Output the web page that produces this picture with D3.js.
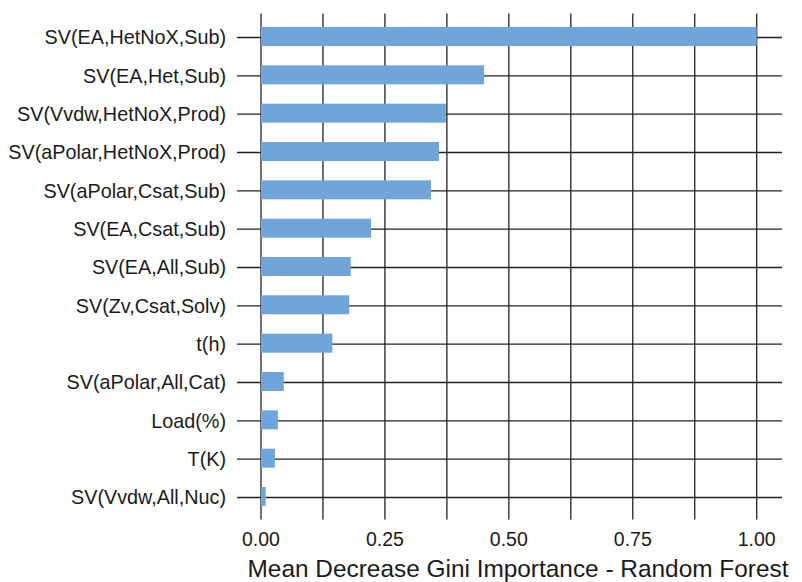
<!DOCTYPE html>
<html>
<head>
<meta charset="utf-8">
<script src="https://cdn.jsdelivr.net/npm/d3@7"></script>
<style>
  body { margin: 0; background: #fff; }
  text { font-family: "Liberation Sans", Arial, sans-serif; fill: #1a1a1a; }
</style>
</head>
<body>
<div id="canvas"></div>
<script>
// data, top bar first
let features = [
    'SV(EA,HetNoX,Sub)', 'SV(EA,Het,Sub)', 'SV(Vvdw,HetNoX,Prod)', 'SV(aPolar,HetNoX,Prod)',
    'SV(aPolar,Csat,Sub)', 'SV(EA,Csat,Sub)', 'SV(EA,All,Sub)', 'SV(Zv,Csat,Solv)',
    't(h)', 'SV(aPolar,All,Cat)', 'Load(%)', 'T(K)', 'SV(Vvdw,All,Nuc)'
]
let importance = [1.00, 0.45, 0.373, 0.359, 0.343, 0.222, 0.181, 0.178, 0.144, 0.046, 0.034, 0.028, 0.0095]
let xTicks = [0, 0.25, 0.5, 0.75, 1]
let xGrid = [0, 0.125, 0.25, 0.375, 0.5, 0.625, 0.75, 0.875, 1]
let xTitle = 'Mean Decrease Gini Importance - Random Forest'

let width = 802
let height = 582
let panel = { left: 237, right: 782, top: 13.5, bottom: 519.5 }
let barColor = '#6fa5d8'
let lineColor = '#222'

let svg = d3.select('#canvas').append('svg')
    .attr('width', width)
    .attr('height', height)

let x = d3.scaleLinear().domain([0, 1]).range([261, 756.7])
let y = d3.scalePoint().domain(features).range([37.5, 497.5])
let barH = 19

// grid
svg.append('g')
    .selectAll('line')
    .data(xGrid)
    .enter()
    .append('line')
    .attr('x1', (d) => x(d))
    .attr('x2', (d) => x(d))
    .attr('y1', panel.top)
    .attr('y2', panel.bottom)
    .attr('stroke', lineColor)
    .attr('stroke-width', 1.3)

svg.append('g')
    .selectAll('line')
    .data(features)
    .enter()
    .append('line')
    .attr('x1', panel.left)
    .attr('x2', panel.right)
    .attr('y1', (d) => y(d))
    .attr('y2', (d) => y(d))
    .attr('stroke', lineColor)
    .attr('stroke-width', 1.3)

// bars
svg.append('g')
    .selectAll('rect')
    .data(features)
    .enter()
    .append('rect')
    .attr('x', x(0))
    .attr('y', (d) => y(d) - barH / 2 - 1)
    .attr('width', (d, i) => x(importance[i]) - x(0))
    .attr('height', barH)
    .attr('fill', barColor)

// y labels
svg.append('g')
    .selectAll('text')
    .data(features)
    .enter()
    .append('text')
    .attr('x', 226)
    .attr('y', (d) => y(d))
    .attr('dy', '0.35em')
    .attr('text-anchor', 'end')
    .attr('font-size', '19.8px')
    .text((d) => d)

// x labels
svg.append('g')
    .selectAll('text')
    .data(xTicks)
    .enter()
    .append('text')
    .attr('x', (d) => x(d))
    .attr('y', 546)
    .attr('text-anchor', 'middle')
    .attr('font-size', '19.5px')
    .text((d) => d3.format('.2f')(d))

svg.append('text')
    .attr('x', 518)
    .attr('y', 577)
    .attr('text-anchor', 'middle')
    .attr('font-size', '24.4px')
    .text(xTitle)
</script>
</body>
</html>
